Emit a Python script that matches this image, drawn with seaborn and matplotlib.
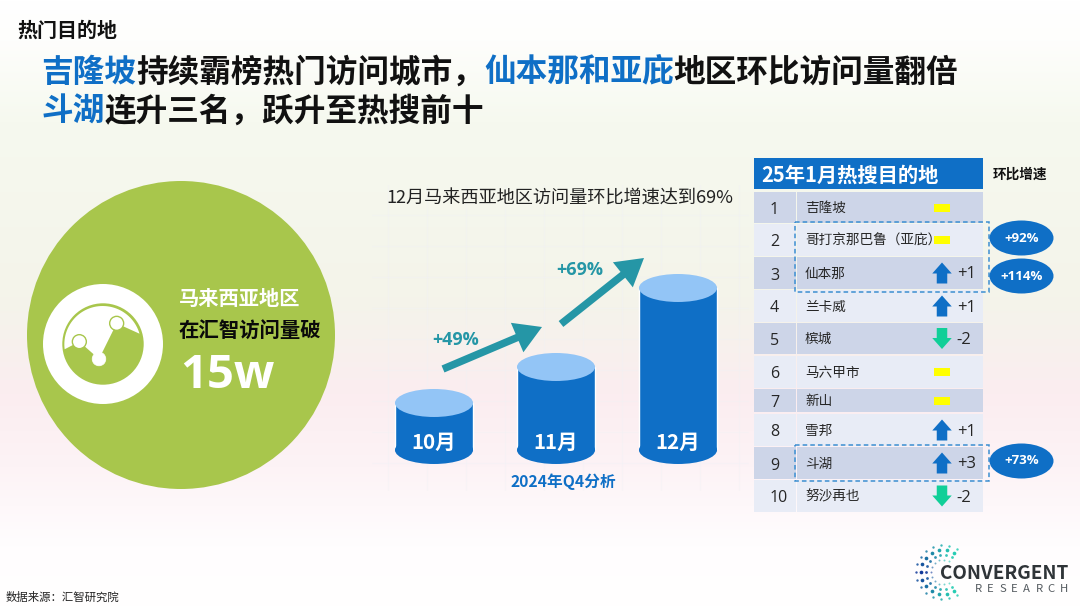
import numpy as np
import pandas as pd
import seaborn as sns
import matplotlib
matplotlib.use("Agg")
import matplotlib.pyplot as plt
from matplotlib.colors import LinearSegmentedColormap
from matplotlib.patches import Circle, Ellipse, FancyArrow, Polygon, Rectangle

# ---------- data ----------
months = ["10月", "11月", "12月"]
cyl_heights = [47, 83, 162]          # body heights
growth_labels = ["+49%", "+69%"]
ranks = list(range(1, 11))
cities = ["吉隆坡", "哥打京那巴鲁（亚庇）", "仙本那", "兰卡威", "槟城",
          "马六甲市", "新山", "雪邦", "斗湖", "努沙再也"]
rank_change = [0, 0, 1, 1, -2, 0, 0, 1, 3, -2]
callouts = {2: "+92%", 3: "+114%", 9: "+73%"}

BLUE = "#0F6FC6"
LIGHT = "#93C5F6"
TEAL = "#2596A6"
GREEN = "#A8C64C"
MINT = "#10CF98"
CJK = ["Noto Sans CJK SC", "DejaVu Sans"]
LATIN = ["Open Sans", "DejaVu Sans"]

sns.set_theme(style="white")
plt.rcParams["font.family"] = CJK

fig = plt.figure(figsize=(10.8, 6.07), dpi=100)
W, H = 1080, 607
ax = fig.add_axes([0, 0, 1, 1], zorder=0)
ax.set_xlim(0, W)
ax.set_ylim(H, 0)
ax.axis("off")

# background
stops = [(0.0, "#FFFFFF"), (0.066, "#FEFEFC"), (0.2, "#F6F9EF"), (0.49, "#F4F4EA"),
         (0.65, "#FBEDF0"), (0.77, "#FDF3F6"), (0.9, "#FFFDFE"), (1.0, "#FFFFFF")]
cm = LinearSegmentedColormap.from_list("bg", stops)
ax.imshow(np.linspace(0, 1, 256)[:, None], extent=(0, W, H, 0), cmap=cm, aspect="auto", zorder=0)
for gx in range(388, 740, 39):
    ax.plot([gx, gx], [185, 490], color="#F1F1F5", lw=0.8, alpha=0.4, zorder=1)
for gy in range(215, 490, 31):
    ax.plot([372, 748], [gy, gy], color="#F1F1F5", lw=0.8, alpha=0.4, zorder=1)


def T(x, y, s, size, color="#1A1A1A", bold=False, ha="left", va="center", z=6, latin=False):
    off = 0 if latin else size * 0.09
    return ax.text(x, y + off, s, fontsize=size, color=color, ha=ha, va=va, zorder=z,
                   fontweight="bold" if bold else "normal", family=LATIN if latin else CJK)


# headings
T(17, 29, "热门目的地", 14.4, "#111111", True)
title_size = 22.8
char_w = 31.6
x = 41.5
for run, col in [("吉隆坡", BLUE), ("持续霸榜热门访问城市，", "#111111"),
                 ("仙本那和亚庇", BLUE), ("地区环比访问量翻倍", "#111111")]:
    T(x, 70.5, run, title_size, col, True)
    x += len(run) * char_w
T(41.5, 109.5, "斗湖", title_size, BLUE, True)
T(41.5 + 2 * char_w, 109.5, "连升三名，跃升至热搜前十", title_size, "#111111", True)

# green disc with icon
ax.add_patch(Circle((181, 335), 154, fc=GREEN, ec="none", zorder=2))
ax.add_patch(Circle((103, 344), 60, fc="white", ec="none", zorder=3))
ax.add_patch(Circle((103, 344), 40.7, fc=GREEN, ec="none", zorder=3))


def z3(px, py):
    return (px / 3, py / 3 + 170)


cx, cy, r = 308, 523, 115
a0 = np.arctan2(537 - cy, 200 - cx)
a1 = np.arctan2(493 - cy, 412 - cx) + 2 * np.pi
ang = np.linspace(a0, a1, 50)
cap = [z3(cx + r * np.cos(a), cy + r * np.sin(a)) for a in ang]
cap += [z3(350, 460), z3(297, 567), z3(238, 515)]
ax.add_patch(Polygon(cap, closed=True, fc="white", ec="none", zorder=4))
ax.add_patch(Circle(z3(238, 515), 7, fc="white", ec=GREEN, lw=1, zorder=5))
ax.add_patch(Circle(z3(350, 460), 7, fc="white", ec=GREEN, lw=1, zorder=5))
ax.add_patch(Circle(z3(297, 567), 6.8, fc="white", ec="white", lw=0.5, zorder=5))
T(178.5, 297, "马来西亚地区", 14.6, "white", True)
T(178.5, 330, "在汇智访问量破", 14.7, "#0A0A0A", True)
T(180, 375, "15w", 34, "white", True, latin=True)

# cylinder chart
T(560, 197, "12月马来西亚地区访问量环比增速达到69%", 13.1, "#222222", ha="center")
left, right, top, base = 370, 750, 170, 450
axb = fig.add_axes([left / W, 1 - base / H, (right - left) / W, (base - top) / H], zorder=1)
axb.patch.set_alpha(0)
df = pd.DataFrame({"month": months, "height": cyl_heights})
bar_w = 0.64
sns.barplot(data=df, x="month", y="height", color=BLUE, saturation=1, width=bar_w, ax=axb)
axb.set_xlim((left - 434) / 122, (right - 434) / 122)
axb.set_ylim(0, base - top)
axb.axis("off")
for i, (m, h) in enumerate(zip(months, cyl_heights)):
    axb.add_patch(Ellipse((i, 0), bar_w, 28, fc=BLUE, ec="none", clip_on=False, zorder=3))
    axb.add_patch(Ellipse((i, h), bar_w, 28, fc=LIGHT, ec="none", clip_on=False, zorder=4))
    axb.text(i, 8, m, fontsize=14.8, color="white", fontweight="bold", ha="center", va="center", zorder=5)

arrows = [((443, 369), (542, 327)), ((561, 324), (644, 258))]
for (p, q) in arrows:
    ax.add_patch(FancyArrow(p[0], p[1], q[0] - p[0], q[1] - p[1], width=7.5, head_width=32,
                            head_length=27, length_includes_head=True, fc=TEAL, ec="none", zorder=6))
T(456, 340, growth_labels[0], 13, TEAL, True, ha="center", latin=True)
T(580, 270, growth_labels[1], 13, TEAL, True, ha="center", latin=True)
T(563, 480.5, "2024年Q4分析", 11.3, BLUE, True, ha="center")

# table
ax.add_patch(Rectangle((754, 158), 229, 31, fc=BLUE, ec="none", zorder=2))
T(761.5, 173.5, "25年1月热搜目的地", 14.6, "white", True)
T(993, 173.5, "环比增速", 9.8, "#111111", True)
row_bounds = [(192, 223), (224, 256), (257, 289), (290, 322), (323, 354),
              (356, 388), (389, 412), (414, 446), (447, 479), (480, 512)]
for i, (rk, city, ch) in enumerate(zip(ranks, cities, rank_change)):
    y0, y1 = row_bounds[i]
    yc = (y0 + y1) / 2
    col = "#CDD5E8" if i % 2 == 0 else "#E8ECF6"
    ax.add_patch(Rectangle((754, y0), 42, y1 - y0, fc=col, ec="none", zorder=2))
    ax.add_patch(Rectangle((797, y0), 186, y1 - y0, fc=col, ec="none", zorder=2))
    T(770, yc + 2.5, str(rk), 11.5, "#262626", latin=True)
    T(805, yc - 0.3, city, 9.8, "#262626")
    if ch == 0:
        ax.add_patch(Rectangle((934, yc - 4), 16, 8, fc="#FFFF00", ec="none", zorder=4))
    elif ch > 0:
        ax.add_patch(FancyArrow(942, yc + 10.5, 0, -21, width=10.5, head_width=19.5, head_length=11,
                                length_includes_head=True, fc=BLUE, ec="none", zorder=4))
        T(957.5, yc + 1.5, f"+{ch}", 12, "#262626", latin=True)
    else:
        ax.add_patch(FancyArrow(942, yc - 10.5, 0, 21, width=10.5, head_width=19.5, head_length=11,
                                length_includes_head=True, fc=MINT, ec="none", zorder=4))
        T(956, yc + 1.5, f"-{abs(ch)}", 12, "#262626", latin=True)

for (x0, y0, y1) in [(795, 222, 292), (795, 445, 481)]:
    ax.add_patch(Rectangle((x0, y0), 194, y1 - y0, fc="none", ec="#3D8FD1", lw=1.1,
                           ls=(0, (3, 2)), zorder=5))
for rk, label in callouts.items():
    yc = {2: 238, 3: 276, 9: 461}[rk]
    ax.add_patch(Ellipse((1021.5, yc), 64, 35, fc=BLUE, ec="none", zorder=6))
    T(1021.5, yc, label, 9.5, "white", True, ha="center", z=7, latin=True)

# footer
T(6, 596, "数据来源：汇智研究院", 8.2, "#222222")

# logo
lcx, lcy = 943, 572
blue_c = np.array([0.07, 0.22, 0.60])
teal_c = np.array([0.15, 0.80, 0.70])
for rad, n, s, light in [(27, 15, 3, 0.15), (22, 13, 7, 0.0), (17, 13, 4, 0.1), (12.5, 11, 2, 0.4)]:
    for a in np.linspace(np.radians(60), np.radians(300), n):
        t = min(abs(a - np.pi) / np.radians(110), 1)
        col = (blue_c * (1 - t) + teal_c * t) * (1 - light) + light
        ax.scatter(lcx + rad * np.cos(a), lcy - rad * np.sin(a), s=s, color=np.clip(col, 0, 1),
                   linewidths=0, zorder=3)
T(940, 572, "CONVERGENT", 13.6, "#2F3438", True)
for k, ch in enumerate("RESEARCH"):
    T(975 + k * 12.1, 588, ch, 8.2, "#555B60")

fig.savefig("out.png", dpi=100)
